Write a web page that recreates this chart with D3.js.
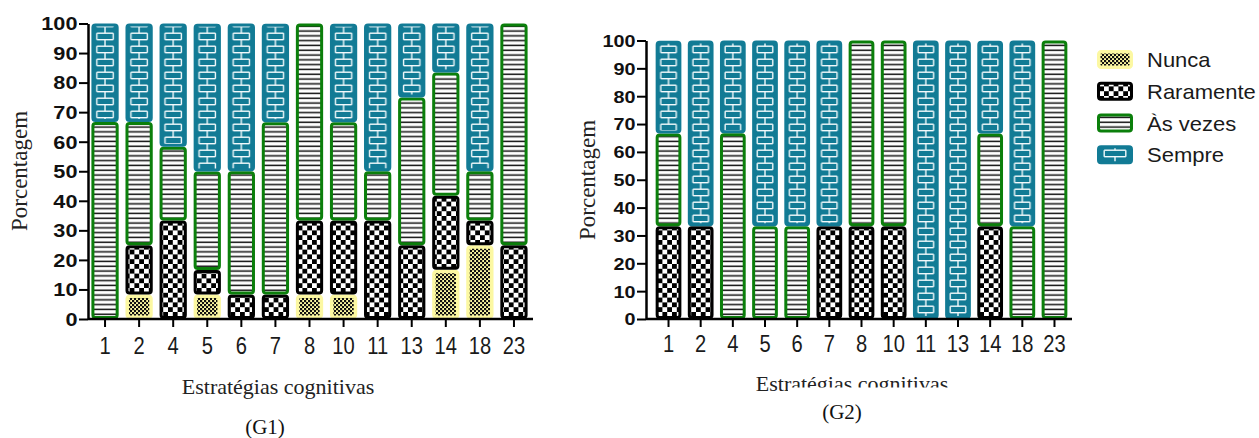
<!DOCTYPE html>
<html><head><meta charset="utf-8">
<script src="https://cdn.jsdelivr.net/npm/d3@7"></script>
<style>body{margin:0;background:#fff}svg{display:block}</style>
</head><body>
<svg id="c" width="1259" height="438"></svg>
<script>
const categories = ["1","2","4","5","6","7","8","10","11","13","14","18","23"];
const seriesNames = ["Nunca","Raramente","Às vezes","Sempre"];
// G1 percentages
const g1Nunca    = [0, 8.3, 0, 8.3, 0, 0, 8.3, 8.3, 0, 0, 16.7, 25, 0];
const g1Raramente= [0, 16.7, 33.3, 8.3, 8.3, 8.3, 25, 25, 33.3, 25, 25, 8.3, 25];
const g1AsVezes  = [66.7, 41.7, 25, 33.3, 41.7, 58.3, 66.7, 33.3, 16.7, 50, 41.7, 16.7, 75];
const g1Sempre   = [33.3, 33.3, 41.7, 50, 50, 33.3, 0, 33.3, 50, 25, 16.7, 50, 0];
// G2 percentages
const g2Nunca    = [0,0,0,0,0,0,0,0,0,0,0,0,0];
const g2Raramente= [33.3, 33.3, 0, 0, 0, 33.3, 33.3, 33.3, 0, 0, 33.3, 0, 0];
const g2AsVezes  = [33.3, 0, 66.7, 33.3, 33.3, 0, 66.7, 66.7, 0, 0, 33.3, 33.3, 100];
const g2Sempre   = [33.3, 66.7, 33.3, 66.7, 66.7, 66.7, 0, 0, 100, 100, 33.3, 66.7, 0];
const yTicks = [0,10,20,30,40,50,60,70,80,90,100];

const TEAL = "#127b95", GREEN = "#0b7f0b", YELLOW = "#fcf8a2";
const SANS = "'Liberation Sans', Arial, sans-serif";
const SERIF = "'Liberation Serif', 'Times New Roman', serif";

const svg = d3.select("#c");
const defs = svg.append("defs");

// hatch (Às vezes)
const ph = defs.append("pattern").attr("id","hatch").attr("patternUnits","userSpaceOnUse")
  .attr("width",10).attr("height",4.8);
ph.append("rect").attr("width",10).attr("height",4.8).attr("fill","#fff");
ph.append("rect").attr("y",1.5).attr("width",10).attr("height",1.5).attr("fill","#111");
// checker (Raramente)
const pc = defs.append("pattern").attr("id","checker").attr("patternUnits","userSpaceOnUse")
  .attr("width",9.6).attr("height",9.6);
pc.append("rect").attr("width",9.6).attr("height",9.6).attr("fill","#000");
pc.append("rect").attr("width",4.8).attr("height",4.8).attr("fill","#fff");
pc.append("rect").attr("x",4.8).attr("y",4.8).attr("width",4.8).attr("height",4.8).attr("fill","#fff");
// fine checker (Nunca)
const pn = defs.append("pattern").attr("id","fine").attr("patternUnits","userSpaceOnUse")
  .attr("width",4).attr("height",4);
pn.append("rect").attr("width",4).attr("height",4).attr("fill",YELLOW);
pn.append("rect").attr("width",2.2).attr("height",2.2).attr("fill","#111");
pn.append("rect").attr("x",2).attr("y",2).attr("width",2.2).attr("height",2.2).attr("fill","#111");

function brickPattern(id, x0, w) {
  const p = defs.append("pattern").attr("id",id).attr("patternUnits","userSpaceOnUse")
    .attr("x",x0).attr("y",0).attr("width",w).attr("height",13);
  p.append("rect").attr("width",w).attr("height",13).attr("fill",TEAL);
  const m = Math.max(5, w*0.2), c = w/2;
  const lines = [[m,0.7,w-m,0.7],[m,7.2,w-m,7.2],[c,0.7,c,7.2],[m,7.2,m,13],[w-m,7.2,w-m,13],[m,0,m,0.7],[w-m,0,w-m,0.7]];
  lines.forEach(l=>{
    p.append("line").attr("x1",l[0]).attr("y1",l[1]).attr("x2",l[2]).attr("y2",l[3])
      .attr("stroke","#f2fafc").attr("stroke-width",1.4);
  });
  return "url(#"+id+")";
}

const styles = [
  {fill:()=>"url(#fine)", stroke:YELLOW, sw:3.5},
  {fill:()=>"url(#checker)", stroke:"#000", sw:3},
  {fill:()=>"url(#hatch)", stroke:GREEN, sw:3},
  {fill:(id,x,w)=>brickPattern(id,x,w), stroke:TEAL, sw:3}
];

function drawChart(cfg) {
  const g = svg.append("g");
  const x = d3.scaleBand().domain(categories).range(cfg.xRange).paddingInner(0.2).paddingOuter(cfg.padOuter);
  const y = d3.scaleLinear().domain([0,100]).range([cfg.yBottom, cfg.yTop]);
  const series = cfg.series;
  categories.forEach((cat,i)=>{
    let cum = 0;
    series.forEach((arr,s)=>{
      const v = arr[i];
      if (v <= 0) return;
      const lo = cum, hi = Math.min(100, cum+v);
      cum += v;
      const st = styles[s];
      const bx = x(cat), bw = x.bandwidth();
      const top = y(hi), bot = y(lo);
      g.append("rect")
        .attr("x", bx + st.sw/2).attr("y", top + st.sw/2)
        .attr("width", bw - st.sw).attr("height", Math.max(0, bot-top-st.sw))
        .attr("rx",2.5)
        .attr("fill", st.fill(cfg.key+"-b"+i, bx, bw))
        .attr("stroke", st.stroke).attr("stroke-width", st.sw);
    });
  });
  // y axis
  const ya = g.append("g").attr("transform",`translate(${cfg.xRange[0]},0)`)
    .call(d3.axisLeft(y).tickValues(yTicks).tickSize(9).tickSizeOuter(0).tickPadding(2));
  ya.select(".domain").attr("stroke","#000").attr("stroke-width",2.5);
  ya.selectAll(".tick line").attr("stroke","#000").attr("stroke-width",2);
  ya.selectAll(".tick text").attr("x",0).attr("dy","0.36em")
    .attr("transform",`translate(-10.5,0) scale(${cfg.ySX},1)`)
    .style("font-family",SANS).style("font-weight","bold").style("font-size",cfg.yFont+"px").attr("fill","#111");
  // x axis
  const xa = g.append("g").attr("transform",`translate(0,${cfg.yBottom})`)
    .call(d3.axisBottom(x).tickSize(8).tickSizeOuter(0));
  xa.select(".domain").remove();
  xa.selectAll(".tick line").attr("stroke","#000").attr("stroke-width",2);
  xa.selectAll(".tick text").attr("y",0).attr("dy",0)
    .attr("transform",`translate(0,${cfg.xLabBase-cfg.yBottom}) scale(0.84,1)`)
    .style("font-family",SANS).style("font-size","24px").attr("fill","#1a1a1a");
  g.append("line").attr("x1",cfg.xRange[0]).attr("x2",cfg.xAxisEnd)
    .attr("y1",cfg.yBottom).attr("y2",cfg.yBottom).attr("stroke","#000").attr("stroke-width",2.5);
  // titles
  g.append("text").attr("transform",`translate(${cfg.yTitleX},${cfg.yTitleY}) rotate(-90)`)
    .attr("text-anchor","middle").style("font-family",SERIF).style("font-size","23px").attr("fill","#222")
    .text("Porcentagem");
  g.append("text").attr("x",cfg.xTitleX).attr("y",cfg.xTitleY).attr("text-anchor","middle")
    .style("font-family",SERIF).style("font-size","22px").attr("fill","#222").text("Estratégias cognitivas");
  if (cfg.cover) {
    g.append("rect").attr("x",cfg.cover[0]).attr("y",cfg.cover[1]).attr("width",cfg.cover[2]).attr("height",cfg.cover[3]).attr("fill","#fff");
  }
  g.append("text").attr("x",cfg.capX).attr("y",cfg.capY).attr("text-anchor","middle")
    .style("font-family",SERIF).style("font-size","21px").attr("fill","#111").text(cfg.caption);
}

drawChart({key:"g1", series:[g1Nunca,g1Raramente,g1AsVezes,g1Sempre], xRange:[88,531], padOuter:0.1,
  xAxisEnd:533, yTop:23.5, yBottom:319, yFont:17.5, ySX:1.24, xLabBase:354,
  yTitleX:27, yTitleY:171, xTitleX:278, xTitleY:394, capX:265, capY:434, caption:"(G1)"});
drawChart({key:"g2", series:[g2Nunca,g2Raramente,g2AsVezes,g2Sempre], xRange:[646,1077], padOuter:0.3,
  xAxisEnd:1072, yTop:40.5, yBottom:319, yFont:16.5, ySX:1.2, xLabBase:352,
  yTitleX:595, yTitleY:180, xTitleX:852, xTitleY:391, capX:842, capY:419, caption:"(G2)",
  cover:[788,387.5,180,12]});

// legend
const legY = [59.5, 91.2, 123, 154.7];
const lg = svg.append("g");
seriesNames.forEach((name,s)=>{
  const st = styles[s];
  const lx = 1097, lw = 36, lh = 19, ly = legY[s]-lh/2;
  let fill;
  if (s===3) fill = brickPattern("leg-brick",lx,lw);
  else fill = st.fill();
  lg.append("rect").attr("x",lx+st.sw/2).attr("y",ly+st.sw/2).attr("width",lw-st.sw).attr("height",lh-st.sw)
    .attr("rx",2.5).attr("fill",fill).attr("stroke",st.stroke).attr("stroke-width",st.sw);
  lg.append("text").attr("transform",`translate(1147,${legY[s]+7.5}) scale(1.1,1)`)
    .style("font-family",SANS).style("font-size","20px").attr("fill","#1a1a1a").text(name);
});
</script>
</body></html>
